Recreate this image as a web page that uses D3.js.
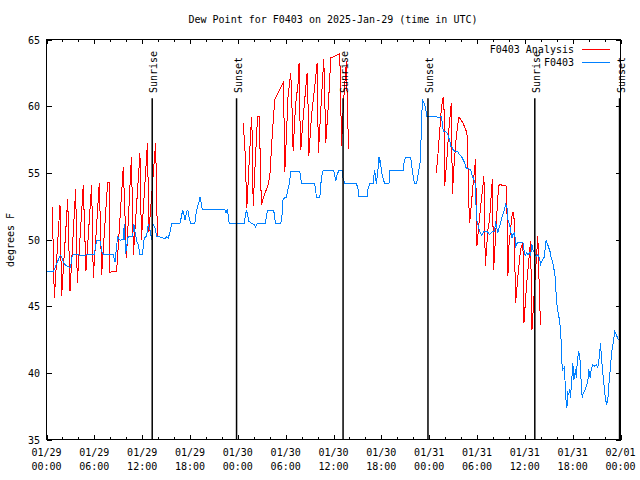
<!DOCTYPE html>
<html><head><meta charset="utf-8">
<script src="https://cdn.jsdelivr.net/npm/d3@7"></script>
<style>
body{margin:0;background:#fff}
svg text{font-family:"DejaVu Sans Mono",monospace;font-size:10px;fill:#000}
</style>
</head><body>
<svg id="chart" width="640" height="480"></svg>
<script>
// ---------- data ----------
const chartTitle = "Dew Point for F0403 on 2025-Jan-29 (time in UTC)";
const yAxisLabel = "degrees F";
const startUTC = Date.UTC(2025, 0, 29, 0, 0);
const endHour = 72;
const xMajorHours = [0, 6, 12, 18, 24, 30, 36, 42, 48, 54, 60, 66, 72];
const xMinorHours = [0, 2, 4, 6, 8, 10, 12, 14, 16, 18, 20, 22, 24, 26, 28, 30, 32, 34, 36, 38, 40, 42, 44, 46, 48, 50, 52, 54, 56, 58, 60, 62, 64, 66, 68, 70, 72];
const yTicks = [35, 40, 45, 50, 55, 60, 65];
const seriesNames = ["F0403 Analysis", "F0403"];
const seriesColors = ["#ff0000", "#0080ff"];

const sunriseHours = [13.26, 37.2, 61.25];
const sunsetHours = [23.84, 47.85, 71.88];
const eventLineTop = 60.6;

// observed F0403 (hours after 01/29 00:00 UTC, deg F)
const obsHours = [0,0.85,1.07,1.4,1.73,1.9,2.11,2.41,2.73,3.03,3.16,3.36,4.45,5.99,6.17,6.29,6.71,6.99,7.21,8.37,8.59,8.92,9.21,9.63,9.75,9.93,10.05,10.25,10.8,10.97,11.09,11.3,11.5,11.72,12.01,12.13,12.26,12.56,12.76,12.97,13.18,13.38,13.6,13.81,14.22,14.85,15.06,15.26,15.48,15.69,16.73,16.94,17.07,17.27,17.36,17.48,17.65,17.77,17.9,18.07,18.61,18.74,18.9,19.15,19.24,19.36,19.53,22.37,22.5,22.66,22.78,22.91,24.79,24.97,25.09,25.22,25.38,25.72,26.04,26.22,26.34,26.54,27.47,27.6,27.8,28.42,28.55,28.73,29.39,29.55,29.68,30.1,30.23,30.39,30.52,30.64,31.77,31.9,31.98,33.65,33.78,33.86,34.28,34.4,34.57,34.69,36.03,36.16,36.28,36.44,36.66,37.07,37.2,37.41,38.88,39.08,39.2,40.21,40.33,40.54,40.96,41.08,41.17,41.3,41.38,41.58,41.71,41.8,41.89,42.01,42.21,42.42,42.96,43.05,44.72,44.84,45.02,45.64,45.77,45.89,46.06,46.18,46.4,46.52,46.68,46.9,47.02,47.15,47.31,47.44,47.56,47.72,48.9,49.1,49.53,49.65,49.73,49.85,50.16,50.36,50.44,50.57,50.69,50.86,50.98,51.19,51.41,51.61,51.82,52.03,52.24,52.36,52.54,52.66,52.95,53.2,53.36,53.57,53.7,53.82,53.91,54.11,54.33,54.62,54.87,55.17,55.37,55.58,55.8,56.0,56.21,56.34,56.42,56.62,56.84,57.05,57.25,57.46,57.59,57.75,57.88,58.1,58.22,58.39,58.51,58.73,58.85,59.06,59.76,59.89,60.06,60.18,60.39,60.6,60.72,60.88,61.01,61.22,61.43,61.63,61.85,61.97,62.14,62.39,62.48,62.6,62.69,62.85,63.01,63.19,63.31,63.51,63.6,63.73,63.86,63.94,64.07,64.23,64.36,64.49,64.61,64.7,64.77,64.98,65.11,65.27,65.4,65.52,65.61,65.74,65.82,65.95,66.02,66.15,66.24,66.36,66.45,66.57,66.74,66.86,66.95,67.07,67.2,67.27,67.49,67.7,67.9,68.03,68.2,68.33,68.53,68.74,68.95,69.15,69.36,69.49,69.58,69.78,69.99,70.12,70.28,70.41,70.53,70.71,70.83,70.96,71.12,71.27,71.39,71.55,71.68,71.89];
const obsValues = [47.62,47.6,47.88,48.37,48.82,48.67,48.3,48.05,47.95,47.92,48.62,48.87,48.82,48.87,49.5,49.92,49.92,49.0,48.87,48.87,48.3,50.2,49.95,50.0,51.13,48.95,49.47,50.25,50.25,51.13,50.62,49.92,49.62,48.87,48.87,49.37,50.12,50.25,51.13,50.75,50.0,51.13,50.88,50.25,50.2,50.05,50.2,50.1,50.5,51.2,51.2,51.75,52.2,51.8,51.45,51.75,52.2,52.12,51.62,51.2,51.2,51.87,52.37,52.87,53.2,52.87,52.25,52.25,52.0,52.2,51.87,51.2,51.2,51.87,52.2,51.87,51.37,51.2,51.12,50.95,51.12,51.2,51.2,51.87,52.2,52.2,52.0,51.2,51.2,51.87,53.07,53.17,53.62,54.0,54.5,55.12,55.12,54.62,54.18,54.18,53.62,53.12,53.12,54.12,54.87,55.17,55.17,54.75,54.37,54.82,55.17,55.17,54.62,54.18,54.18,53.8,53.2,53.2,53.8,54.18,54.18,54.8,55.17,54.5,54.18,55.25,56.2,55.8,55.87,55.12,54.62,54.18,54.18,55.17,55.17,55.75,56.17,56.17,55.87,55.12,54.5,54.18,54.18,54.5,55.12,55.87,58.3,60.45,60.3,60.12,59.75,59.25,59.25,59.12,59.25,58.75,58.3,58.12,58.05,57.87,57.62,57.5,56.95,56.95,56.75,56.62,56.62,56.55,56.37,56.25,56.0,55.87,55.62,55.3,55.3,55.25,54.87,54.55,54.37,54.12,51.62,51.12,50.62,50.3,50.62,50.62,50.55,50.37,50.5,50.62,50.62,51.37,51.0,50.55,51.0,51.5,51.87,52.25,52.62,52.45,51.5,51.12,50.62,50.12,50.37,50.5,49.5,49.75,49.75,49.25,48.75,49.0,48.87,49.0,48.75,49.62,49.25,49.0,48.75,48.87,48.62,48.12,48.37,48.62,48.75,49.87,49.92,49.65,49.37,49.05,48.62,48.25,47.87,47.62,46.87,45.62,44.87,44.37,43.87,43.25,41.5,40.12,40.25,40.45,38.25,37.37,38.5,38.37,38.75,38.12,39.0,40.0,40.75,39.5,39.75,40.25,39.62,40.75,41.62,41.37,40.75,39.25,38.12,38.37,38.62,39.0,39.37,40.25,39.62,40.25,40.62,40.5,40.62,40.37,41.25,42.25,41.37,40.0,38.75,38.0,37.62,38.0,39.0,40.25,41.12,41.87,42.37,43.12,43.0,42.75,42.55,42.42];

// analysis F0403 (null = gap)
const anaHours = [0.73,0.98,1.69,1.9,2.66,2.95,3.66,3.86,4.61,4.95,5.66,5.87,6.62,6.92,7.67,7.87,7.9,8.8,9.63,10.03,10.65,10.9,11.72,11.91,12.66,12.85,13.69,13.91,
  19,
  24.66,24.88,25.13,25.42,25.72,25.84,25.92,26.22,26.47,26.69,26.95,27.26,27.8,28.01,28.22,28.42,28.64,29.05,29.68,29.77,29.89,30.02,30.3,30.64,30.86,30.93,31.23,31.56,31.68,31.77,31.9,32.18,32.61,32.69,32.81,32.9,33.24,33.65,33.94,34.03,34.11,34.36,34.78,34.9,35.03,35.37,35.66,36.57,36.78,36.91,36.99,37.28,37.62,37.75,37.91,
  43,
  48.9,49.1,49.32,49.53,49.73,49.85,49.94,50.16,50.44,50.78,50.91,51.11,51.41,51.7,51.82,52.24,52.66,52.79,52.95,53.08,53.49,53.82,53.99,54.33,54.87,55.04,55.37,55.58,55.92,56.09,56.42,56.71,56.84,57.68,57.75,57.88,58.0,58.43,58.63,58.84,59.21,59.46,59.76,59.89,60.22,60.72,60.9,61.28,61.63,61.85,61.97];
const anaValues = [52.45,45.6,52.62,45.75,53.0,46.12,53.75,46.75,54.05,47.62,54.12,47.12,54.25,47.37,54.3,54.3,47.55,47.62,55.47,48.65,56.15,48.87,56.45,50.0,57.2,50.6,57.27,50.22,
  null,
  58.75,57.0,52.4,55.75,59.2,57.25,52.5,56.25,59.2,59.2,52.62,53.22,54.12,54.75,56.87,58.75,60.5,61.02,61.75,60.0,55.1,56.75,60.75,62.5,58.77,56.62,60.0,61.75,63.25,59.5,56.75,59.0,62.0,62.5,60.0,56.25,59.25,61.5,63.25,59.5,56.5,59.25,63.55,60.75,57.25,60.25,63.62,63.87,63.95,60.75,57.0,60.5,63.37,59.5,56.8,
  null,
  55.0,56.37,58.12,59.87,60.62,60.62,54.0,55.5,58.0,60.25,53.42,55.5,57.75,59.12,59.12,58.75,58.12,57.75,53.0,51.25,54.0,56.0,49.5,51.75,54.75,48.0,50.75,51.5,54.5,47.75,51.25,54.0,54.12,54.0,52.5,47.25,49.5,52.0,52.0,45.25,47.75,49.25,49.77,43.75,46.62,49.87,43.25,47.0,50.25,45.5,43.62];

// ---------- drawing ----------
const toDate = h => new Date(startUTC + h * 3600e3);
const svg = d3.select("#chart");
const x = d3.scaleUtc().domain([toDate(0), toDate(endHour)]).range([46.5, 620.5]);
const y = d3.scaleLinear().domain([35, 65]).range([439.5, 39.5]);
const font = '"DejaVu Sans Mono", monospace';

function styleAxis(g) {
  g.select(".domain").remove();
  g.selectAll("line").attr("stroke", "#000").attr("shape-rendering", "crispEdges");
  g.attr("font-family", font).attr("font-size", 10);
}

// minor + major x ticks bottom and top
svg.append("g").attr("transform", `translate(0,${y(35)})`)
  .call(d3.axisBottom(x).tickValues(xMinorHours.map(toDate)).tickSize(-2.5).tickFormat("")).call(styleAxis);
svg.append("g").attr("transform", `translate(0,${y(35)})`)
  .call(d3.axisBottom(x).tickValues(xMajorHours.map(toDate)).tickSize(-4.5).tickFormat("")).call(styleAxis);
svg.append("g").attr("transform", `translate(0,${y(65)})`)
  .call(d3.axisTop(x).tickValues(xMinorHours.map(toDate)).tickSize(-2.5).tickFormat("")).call(styleAxis);
svg.append("g").attr("transform", `translate(0,${y(65)})`)
  .call(d3.axisTop(x).tickValues(xMajorHours.map(toDate)).tickSize(-4.5).tickFormat("")).call(styleAxis);

// y axes
svg.append("g").attr("transform", `translate(${x.range()[0]},0)`)
  .call(d3.axisLeft(y).tickValues(yTicks).tickSize(-5).tickPadding(6.5).tickFormat(d3.format("d"))).call(styleAxis)
  .selectAll("text").attr("fill", "#000").attr("dy", "0.36em");
svg.append("g").attr("transform", `translate(${x.range()[1]},0)`)
  .call(d3.axisRight(y).tickValues(yTicks).tickSize(-5).tickFormat("")).call(styleAxis);

// x tick labels (two lines)
const fmtDate = d3.utcFormat("%m/%d"), fmtTime = d3.utcFormat("%H:%M");
const xl = svg.append("g").attr("font-family", font).attr("font-size", 10).attr("text-anchor", "middle");
xMajorHours.forEach(h => {
  const t = xl.append("text").attr("x", x(toDate(h))).attr("y", 456);
  t.append("tspan").attr("x", x(toDate(h))).text(fmtDate(toDate(h)));
  t.append("tspan").attr("x", x(toDate(h))).attr("dy", 14).text(fmtTime(toDate(h)));
});

// series
const lineGen = d3.line().defined((d) => d[1] !== null).x(d => x(toDate(d[0]))).y(d => y(d[1]));
const anaData = anaHours.map((h, i) => [h, anaValues[i]]);
const obsData = obsHours.map((h, i) => [h, obsValues[i]]);

// sunrise / sunset lines
const events = sunriseHours.map(h => ({h, label: "Sunrise"})).concat(sunsetHours.map(h => ({h, label: "Sunset"})));

svg.append("path").datum(anaData).attr("d", lineGen).attr("fill", "none")
  .attr("stroke", seriesColors[0]).attr("stroke-width", 1).attr("shape-rendering", "crispEdges");
svg.append("path").datum(obsData).attr("d", lineGen).attr("fill", "none")
  .attr("stroke", seriesColors[1]).attr("stroke-width", 1).attr("shape-rendering", "crispEdges");

events.forEach(e => {
  const ex = x(toDate(e.h));
  svg.append("line").attr("x1", ex).attr("x2", ex).attr("y1", y(eventLineTop)).attr("y2", y(35))
    .attr("stroke", "#000").attr("stroke-width", 1.5);
  svg.append("text").attr("transform", `translate(${ex + 5},93) rotate(-90)`)
    .attr("font-family", font).attr("font-size", 10).text(e.label);
});

// frame
svg.append("rect").attr("x", x.range()[0]).attr("y", y(65))
  .attr("width", x.range()[1] - x.range()[0]).attr("height", y(35) - y(65))
  .attr("fill", "none").attr("stroke", "#000").attr("stroke-width", 1).attr("shape-rendering", "crispEdges");

// title and y label
svg.append("text").attr("x", 333).attr("y", 23).attr("text-anchor", "middle")
  .attr("font-family", font).attr("font-size", 10).text(chartTitle);
svg.append("text").attr("transform", "translate(14,240) rotate(-90)").attr("text-anchor", "middle")
  .attr("font-family", font).attr("font-size", 10).text(yAxisLabel);

// legend
seriesNames.forEach((name, i) => {
  const ly = 49.5 + i * 13;
  svg.append("text").attr("x", 574).attr("y", ly + 3.6).attr("text-anchor", "end")
    .attr("font-family", font).attr("font-size", 10).text(name);
  svg.append("line").attr("x1", 582).attr("x2", 610).attr("y1", ly).attr("y2", ly)
    .attr("stroke", seriesColors[i]).attr("stroke-width", 1).attr("shape-rendering", "crispEdges");
});
</script>
</body></html>
